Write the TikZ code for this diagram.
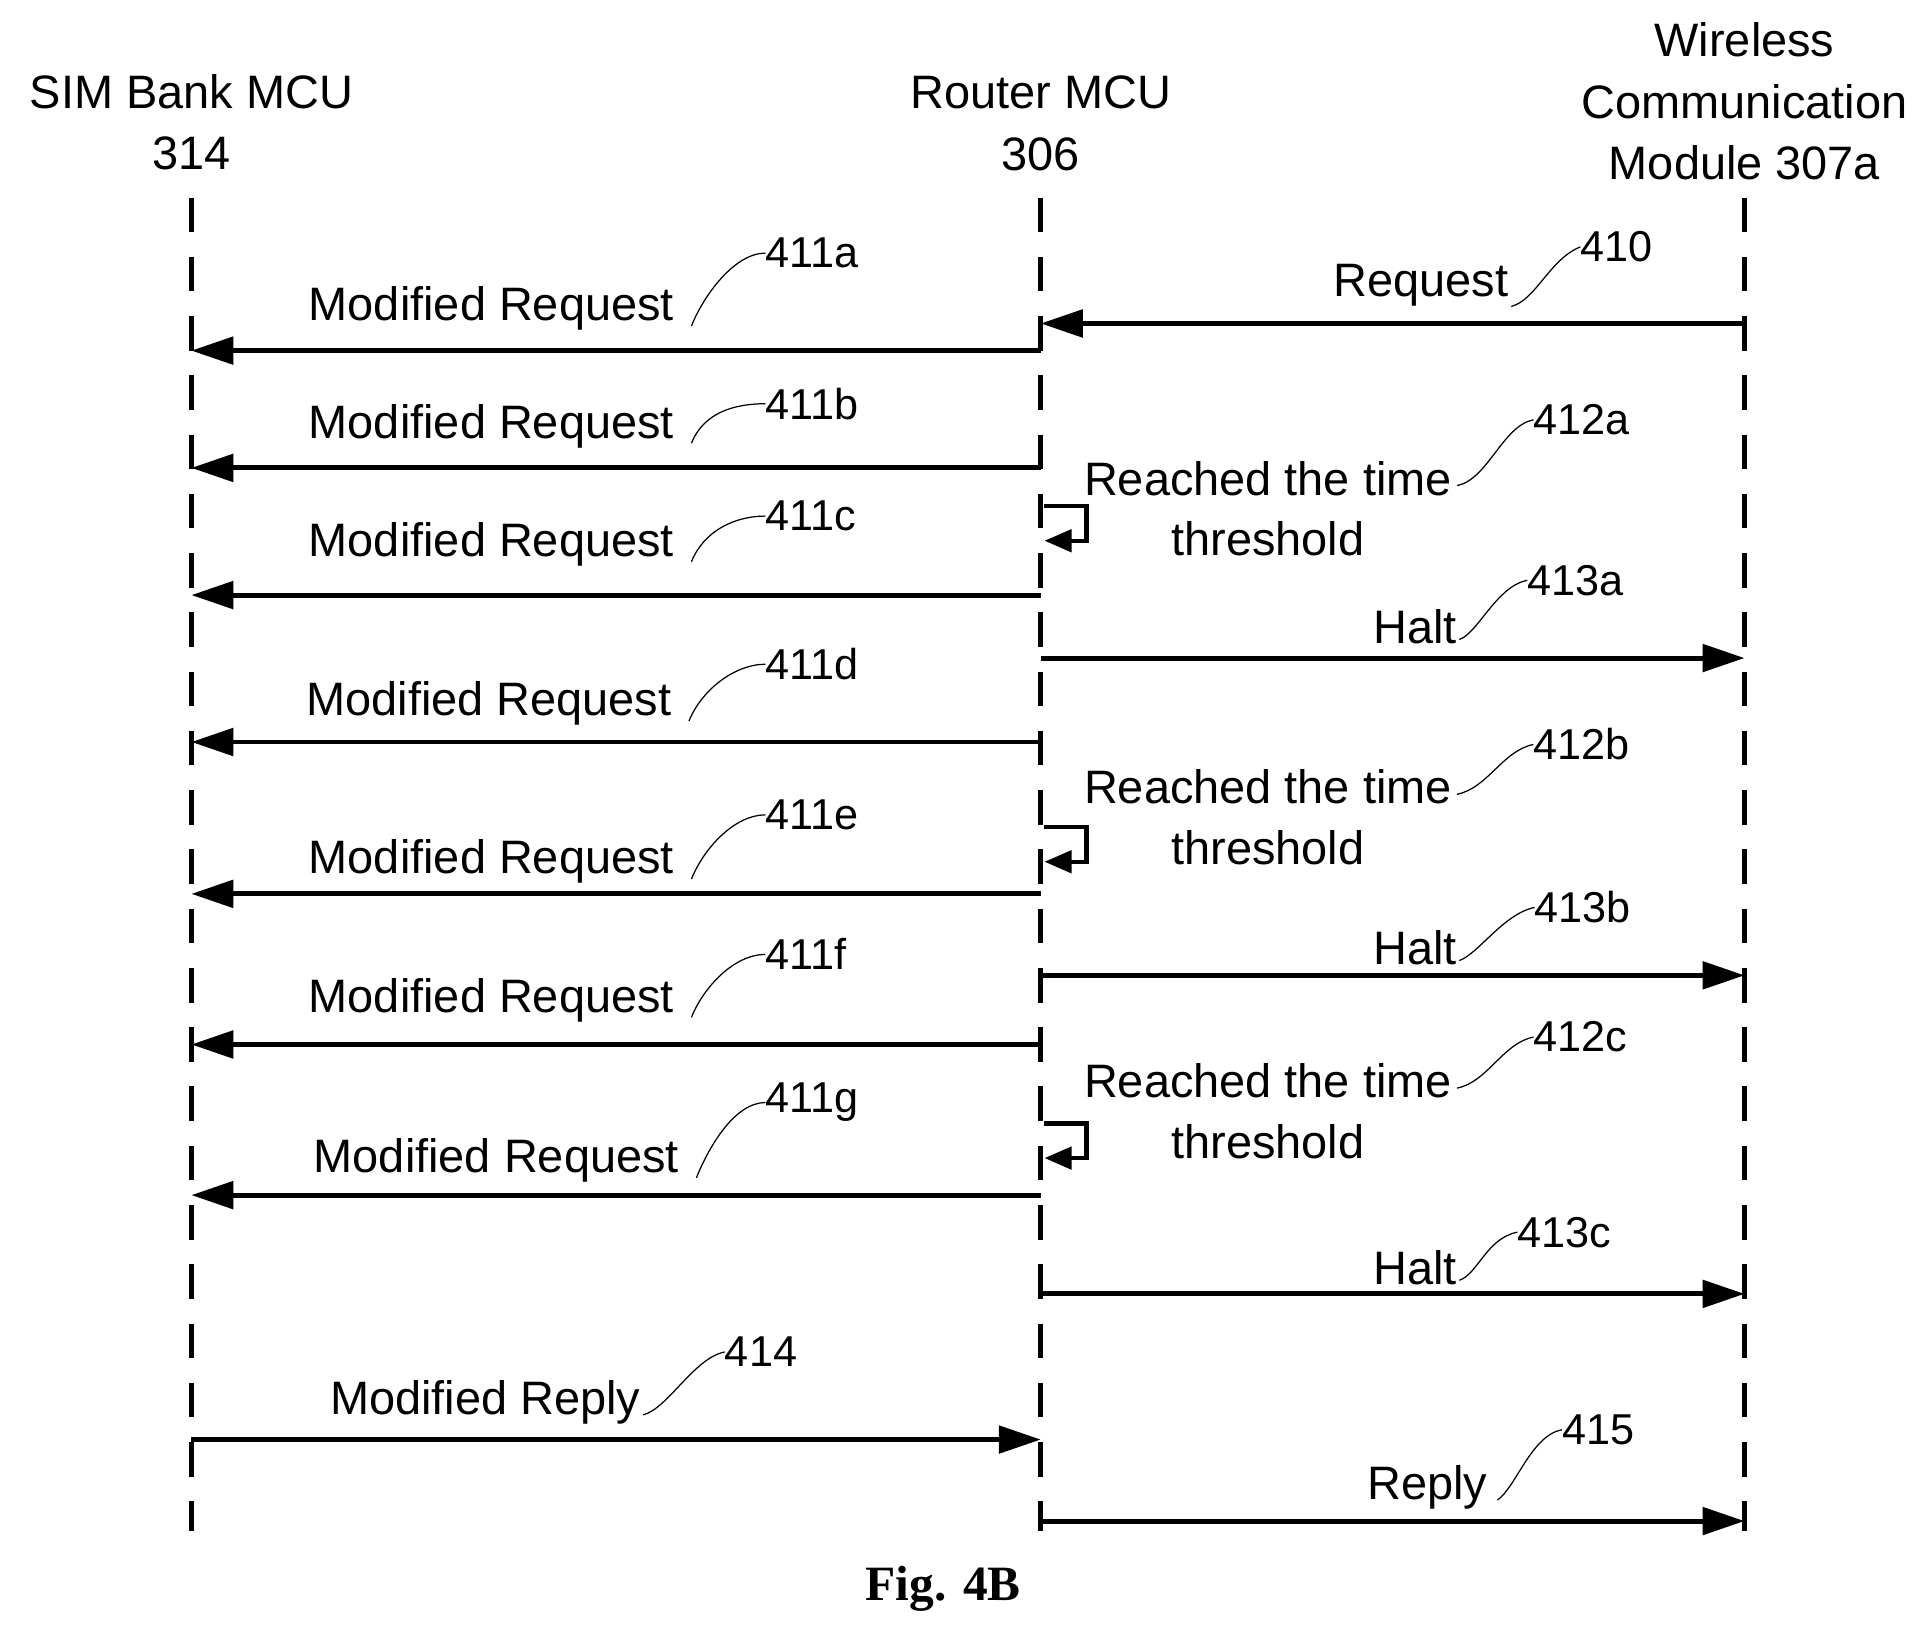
\documentclass[tikz,border=0pt]{standalone}
\usepackage{fontspec}
\setmainfont{Liberation Sans}
\newfontfamily\figfont{Liberation Serif}
\usetikzlibrary{arrows.meta,calc}
\begin{document}
\begin{tikzpicture}[x=1pt,y=-1pt,
  life/.style={line width=4pt,dash pattern=on 28pt off 20pt},
  msg/.style={line width=4pt,-{Triangle[length=34pt,width=22pt]}},
  loop/.style={line width=3.5pt,-{Triangle[length=22pt,width=18pt]}},
  lbl/.style={font=\fontsize{38}{44}\selectfont,inner sep=0pt},
  num/.style={font=\fontsize{35}{40}\selectfont,inner sep=0pt,anchor=west},
  sq/.style={line width=1pt}]
\useasboundingbox (0,0) rectangle (1560,1321);
% headers
\node[lbl,align=center] (hs) at (155,99) {SIM Bank MCU\\[6pt]314};
\node[lbl,align=center] (hr) at (843,100) {Router MCU\\[6pt]306};
\node[lbl,align=center] (hw) at (1413,82) {Wireless\\[6pt]Communication\\[6pt]Module 307a};
% lifelines
\coordinate (s0) at (155,160); \coordinate (s1) at (155,1240);
\coordinate (r0) at (843,160); \coordinate (r1) at (843,1240);
\coordinate (w0) at (1413,160); \coordinate (w1) at (1413,1240);
\draw[life] (s0) -- (s1);
\draw[life] (r0) -- (r1);
\draw[life] (w0) -- (w1);
% 410
\coordinate (a410) at (1413,262); \coordinate (b410) at (843,262);
\draw[msg] (a410) -- (b410);
\node[lbl,anchor=east] (l410) at (1222,231) {Request};
\node[num] (n410) at (1280,200) {410};
\draw[sq] ($(l410.south east)+(2,0)$) .. controls +(20,-5) and +(-25,10) .. (n410.west);
% 411 series
\foreach \n/\y/\lx/\ly/\ny/\nn in {a/284/398/250/205/411a,b/379/398/345/327/411b,c/482/398/441/418/411c,d/601/396/570/538/411d,e/724/398/698/660/411e,f/846/398/810/773/411f,g/968/402/940/893/411g}{
  \coordinate (ra\n) at (843,\y); \coordinate (sa\n) at (155,\y);
  \draw[msg] (ra\n) -- (sa\n);
  \node[lbl] (l\n) at (\lx,\ly) {Modified Request};
  \node[num] (n\n) at (620,\ny) {\nn};
  \draw[sq] ($(l\n.east)+(14,14)$) .. controls +(10,-25) and +(-25,0) .. (n\n.west);
}
% self loops 412
\foreach \n/\y/\ly/\ny/\nn in {a/410/387/340/412a,b/670/637/603/412b,c/910/875/840/412c}{
  \coordinate (p\n) at (846,\y); \coordinate (q\n) at (880,\y);
  \coordinate (u\n) at (880,\y+28); \coordinate (v\n) at (846,\y+28);
  \draw[loop] (p\n) -- (q\n) -- (u\n) -- (v\n);
  \node[lbl,align=center] (t\n) at (1027,\ly+25) {Reached the time\\[5pt]threshold};
  \node[num] (m\n) at (1242,\ny) {\nn};
  \draw[sq] ($(t\n.north east)+(4,20)$) .. controls +(25,-5) and +(-25,5) .. (m\n.west);
}
% halts 413
\foreach \n/\y/\ly/\nx/\ny/\nn in {a/533/508/1237/470/413a,b/790/768/1243/735/413b,c/1048/1027/1229/998/413c}{
  \coordinate (hr\n) at (843,\y); \coordinate (hw\n) at (1413,\y);
  \draw[msg] (hr\n) -- (hw\n);
  \node[lbl] (h\n) at (1146,\ly) {Halt};
  \node[num] (k\n) at (\nx,\ny) {\nn};
  \draw[sq] ($(h\n.east)+(2,10)$) .. controls +(15,-5) and +(-25,5) .. (k\n.west);
}
% 414
\coordinate (s414) at (155,1166); \coordinate (r414) at (843,1166);
\draw[msg] (s414) -- (r414);
\node[lbl] (l414) at (393,1136) {Modified Reply};
\node[num] (n414) at (587,1095) {414};
\draw[sq] ($(l414.east)+(2,10)$) .. controls +(20,-5) and +(-25,5) .. (n414.west);
% 415
\coordinate (r415) at (843,1232); \coordinate (w415) at (1413,1232);
\draw[msg] (r415) -- (w415);
\node[lbl] (l415) at (1156,1205) {Reply};
\node[num] (n415) at (1265,1158) {415};
\draw[sq] ($(l415.east)+(8,10)$) .. controls +(15,-10) and +(-25,5) .. (n415.west);
% caption
\node[font=\figfont\bfseries\fontsize{40}{46}\selectfont] (cap) at (764,1287) {Fig. 4B};
\end{tikzpicture}
\end{document}
